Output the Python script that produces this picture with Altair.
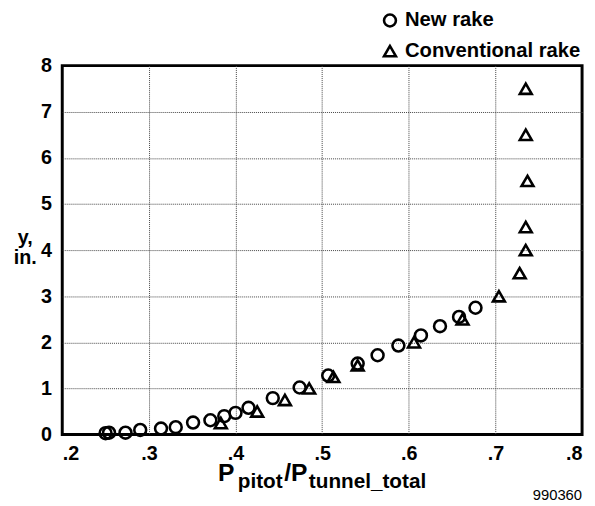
import altair as alt
import pandas as pd

# ---- data ----
new_x = [0.250, 0.254, 0.273, 0.290, 0.314, 0.331, 0.351, 0.371, 0.387, 0.400,
         0.415, 0.443, 0.474, 0.507, 0.541, 0.564, 0.588, 0.614, 0.636, 0.658, 0.677]
new_y = [0.03, 0.04, 0.04, 0.10, 0.13, 0.16, 0.26, 0.31, 0.40, 0.47,
         0.58, 0.79, 1.02, 1.28, 1.54, 1.72, 1.93, 2.15, 2.35, 2.55, 2.75]
conv_x = [0.383, 0.425, 0.457, 0.485, 0.513, 0.541, 0.606, 0.662, 0.704, 0.728,
          0.735, 0.735, 0.737, 0.735, 0.735]
conv_y = [0.25, 0.50, 0.75, 1.00, 1.25, 1.50, 2.00, 2.50, 3.00, 3.50,
          4.00, 4.50, 5.50, 6.50, 7.50]
series_names = ["New rake", "Conventional rake"]
x_ticks = [0.2, 0.3, 0.4, 0.5, 0.6, 0.7, 0.8]
y_ticks = [0, 1, 2, 3, 4, 5, 6, 7, 8]
y_title = ["y,", "in."]
title_main = ["P", "/", "P"]
title_subs = ["pitot", "tunnel_total"]
figure_id = "990360"

FONT = "Liberation Sans"

df = pd.DataFrame({
    "x": new_x + conv_x,
    "y": new_y + conv_y,
    "series": [series_names[0]] * len(new_x) + [series_names[1]] * len(conv_x),
})

points = alt.Chart(df).mark_point(
    filled=False, color="black", strokeWidth=2.6, size=145, opacity=1
).encode(
    x=alt.X("x:Q",
            scale=alt.Scale(domain=[0.2, 0.8], nice=False, zero=False),
            axis=alt.Axis(values=x_ticks, title=None, labelPadding=9,
                          labelExpr="'.' + format(datum.value*10, '.0f')",
                          gridOpacity={"condition": {"test": "datum.value < 0.25 || datum.value > 0.75", "value": 0}, "value": 1})),
    y=alt.Y("y:Q",
            scale=alt.Scale(domain=[0, 8], nice=False),
            axis=alt.Axis(values=y_ticks, title=y_title, titleAngle=0,
                          titleX=-38, titleY=180, titleAlign="center",
                          titleBaseline="alphabetic", titleLineHeight=21,
                          labelPadding=11,
                          gridOpacity={"condition": {"test": "datum.value < 0.5 || datum.value > 7.5", "value": 0}, "value": 1})),
    shape=alt.Shape("series:N",
                    scale=alt.Scale(domain=series_names, range=["circle", "triangle-up"]),
                    legend=alt.Legend(title=None, orient="none", legendX=322, legendY=-56,
                                      padding=0, rowPadding=8, labelOffset=5, labelLimit=0,
                                      labelFont=FONT, labelFontSize=20.5, labelFontWeight="bold",
                                      labelColor="black", symbolSize=145, symbolStrokeWidth=2.6,
                                      symbolStrokeColor="black")),
)


def txt(s, x, y, size, weight="bold", align="left"):
    return alt.Chart(pd.DataFrame({"t": [s]})).mark_text(
        font=FONT, fontSize=size, fontWeight=weight, align=align,
        baseline="alphabetic", color="black"
    ).encode(text="t:N", x=alt.value(x), y=alt.value(y))


layers = [
    points,
    txt(title_main[0], 158, 421, 25),
    txt(title_subs[0], 178, 428, 21),
    txt(title_main[1], 225, 421, 25),
    txt(title_main[2], 232, 421, 25),
    txt(title_subs[1], 250, 428, 21),
    txt(figure_id, 527, 440, 15, weight="normal", align="right"),
]

chart = alt.layer(*layers).properties(
    width=527, height=374,
    autosize=alt.AutoSizeParams(type="none"),
    padding={"left": 55, "top": 55, "right": 5, "bottom": 69},
).configure_view(
    stroke="black", strokeWidth=3
).configure_axis(
    labelFont=FONT, labelFontSize=20, labelFontWeight="bold", labelColor="black",
    titleFont=FONT, titleFontSize=20, titleFontWeight="bold", titleColor="black",
    ticks=False, domain=False,
    gridColor="#444444", gridDash=[1, 1], gridWidth=1,
)

chart.save("out.html", embed_options={"renderer": "svg", "actions": False})
